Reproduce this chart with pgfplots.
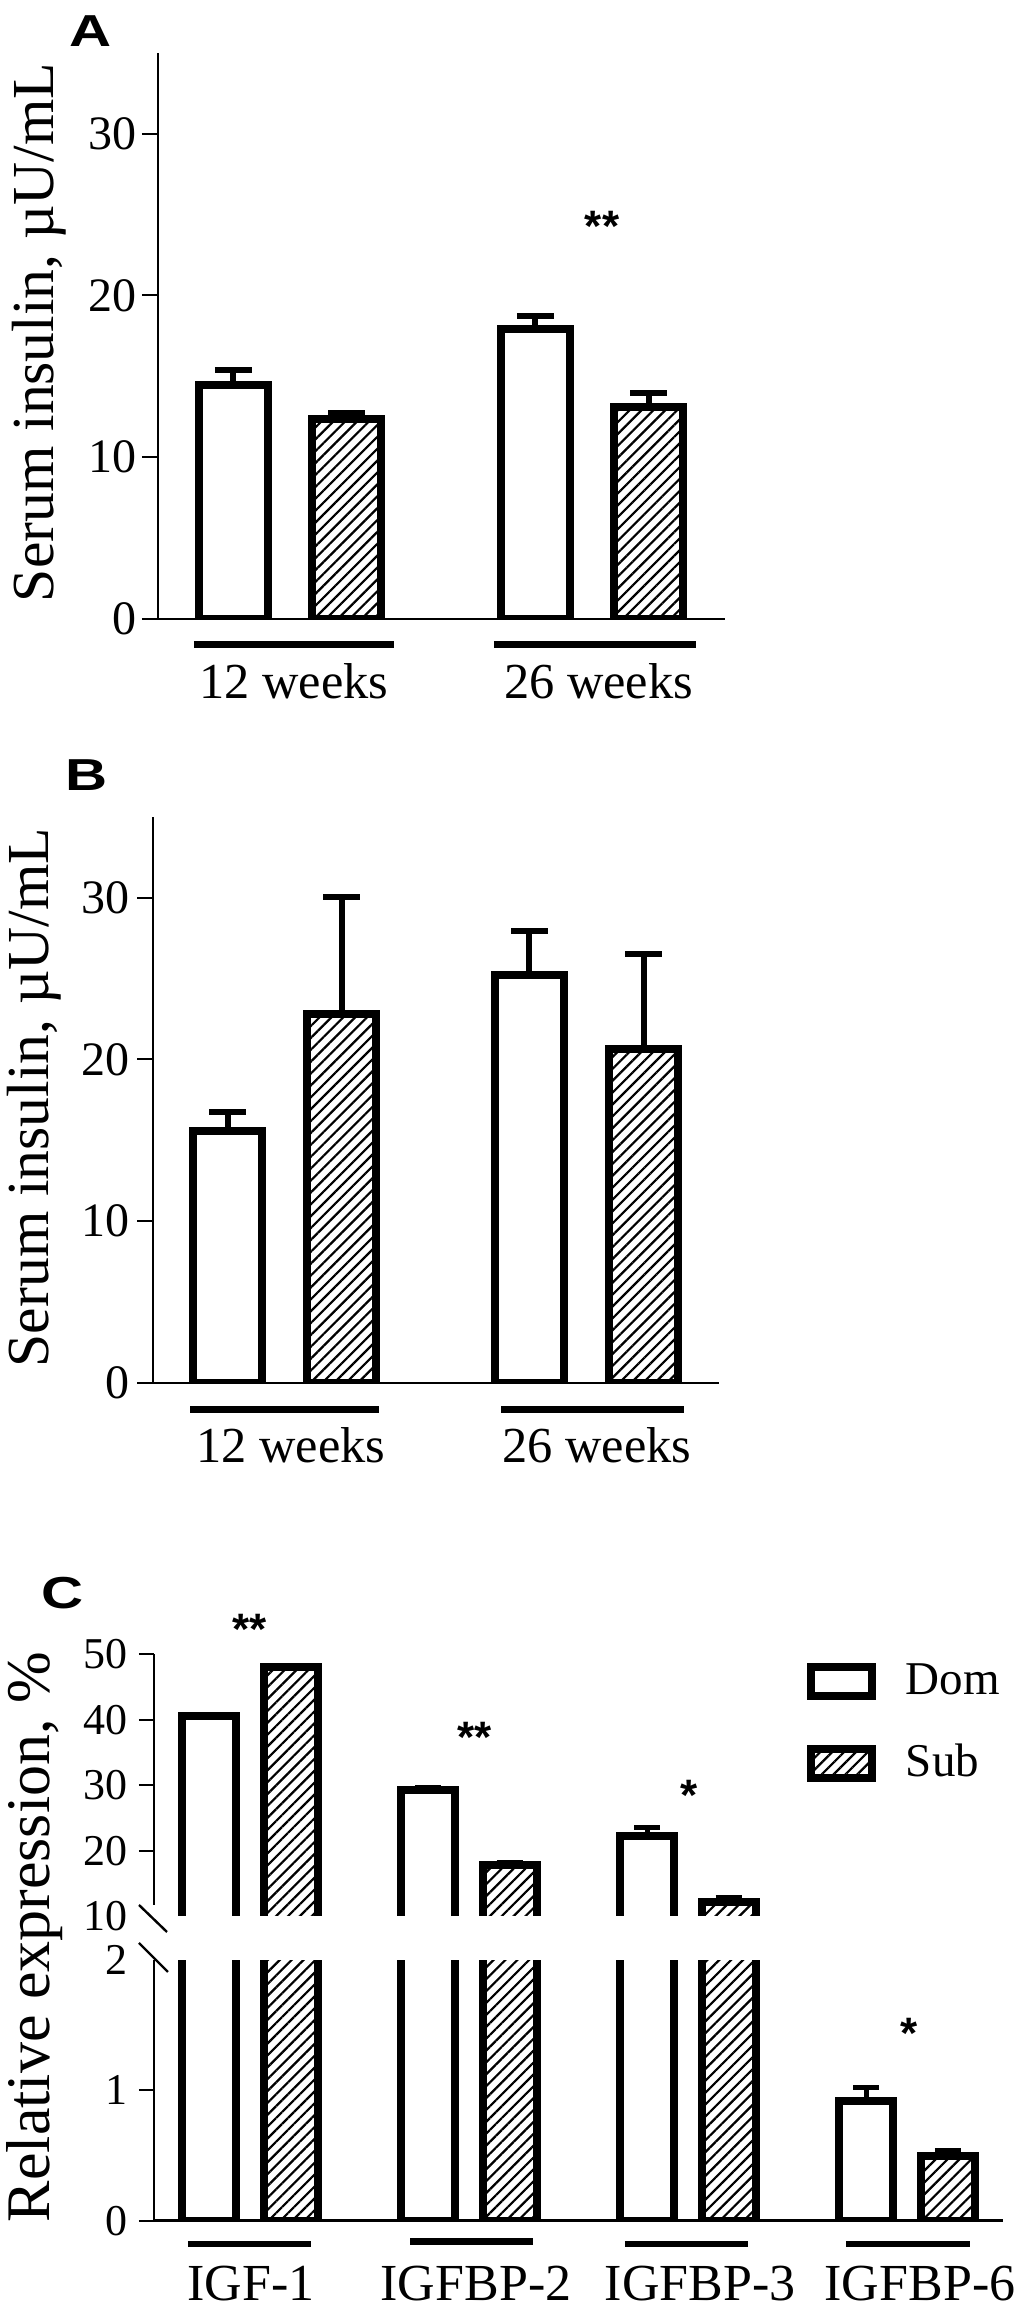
\documentclass[border=0pt]{standalone}
\usepackage{fontspec}
\setmainfont{Liberation Serif}
\newfontfamily\lsans{Liberation Sans}
\usepackage{pgfplots}
\pgfplotsset{compat=1.18}
\usetikzlibrary{patterns.meta}
\pgfplotsset{
  /pgf/number format/assume math mode=true,
  panel/.style={
    scale only axis, clip mode=individual,
    axis x line*=bottom, axis y line*=left,
    axis line style={line width=0.6pt, black},
    tick align=outside, major tick length=4pt,
    ytick style={line width=0.5pt, black},
    xtick style={draw=none},
    yticklabel style={inner sep=0pt},
  },
  errA/.style={error bars/.cd, y dir=plus, y explicit,
    error bar style={line width=1.5pt, black},
    error mark options={rotate=90, mark size=4.6pt, line width=1.5pt, black}},
  errC/.style={error bars/.cd, y dir=plus, y explicit,
    error bar style={line width=1.2pt, black},
    error mark options={rotate=90, mark size=3.25pt, line width=1.2pt, black}},
  hatch/.style={pattern={Lines[angle=45,distance=2.1pt,line width=0.55pt]}},
  legbox/.style={legend image code/.code={\draw[##1] (0pt,-3.6pt) rectangle (15.25pt,3.6pt); \path[draw=none,fill=none] (15.25pt,0pt) -- (23.75pt,0pt);}},
}
\tikzset{sig/.style={font=\lsans\bfseries\fontsize{11}{12}\selectfont, anchor=base, inner sep=0pt},
  plab/.style={font=\lsans\bfseries\fontsize{11.2}{12}\selectfont, anchor=base west, inner sep=0pt, xscale=1.3, transform shape}}
\begin{document}
\begin{tikzpicture}
\path[use as bounding box] (0,0) rectangle (255pt,577.75pt);
% ---------------- Panel A
\begin{axis}[panel, at={(39.5pt,423pt)}, anchor=south west,
  width=141.75pt, height=141.575pt,
  xmin=-0.437, xmax=1.440, ymin=0, ymax=35,
  ytick={0,10,20,30}, yticklabels={0,10,20,30},
  yticklabel style={font=\fontsize{12}{13}\selectfont, xshift=-1.25pt},
  xtick={0.013,1.0215}, xticklabels={12 weeks,26 weeks},
  xticklabel style={font=\fontsize{12.6}{13}\selectfont, yshift=-3.5pt},
  ylabel={Serum insulin, µU/mL},
  ylabel style={at={(axis description cs:-0.185,0.506)}, anchor=base, font=\fontsize{14.9}{16}\selectfont},
]
\addplot[ybar, bar width=17.25pt, bar shift=0pt, draw=black, fill=white, line width=2pt, errA]
  coordinates {(-0.1877,14.47) +- (0,0.94) (0.8123,17.92) +- (0,0.81)};
\addplot[ybar, bar width=17.25pt, bar shift=0pt, draw=black, hatch, line width=2pt, errA]
  coordinates {(0.1877,12.33) +- (0,0.40) (1.1877,13.10) +- (0,0.84)};
\draw[line width=1.75pt] (axis cs:-0.318,-1.607) -- (axis cs:0.344,-1.607);
\draw[line width=1.75pt] (axis cs:0.675,-1.607) -- (axis cs:1.344,-1.607);
\node[sig] at (axis cs:1.033,23.3) {**};
\end{axis}
% ---------------- Panel B
\begin{axis}[panel, at={(38.25pt,232pt)}, anchor=south west,
  width=141.5pt, height=141.575pt,
  xmin=-0.4366, xmax=1.439, ymin=0, ymax=35,
  ytick={0,10,20,30}, yticklabels={0,10,20,30},
  yticklabel style={font=\fontsize{12}{13}\selectfont, xshift=-1.75pt},
  xtick={0.021,1.035}, xticklabels={12 weeks,26 weeks},
  xticklabel style={font=\fontsize{12.6}{13}\selectfont, yshift=-3.5pt},
  ylabel={Serum insulin, µU/mL},
  ylabel style={at={(axis description cs:-0.185,0.504)}, anchor=base, font=\fontsize{14.9}{16}\selectfont},
]
\addplot[ybar, bar width=17.25pt, bar shift=0pt, draw=black, fill=white, line width=2pt, errA]
  coordinates {(-0.189,15.59) +- (0,1.17) (0.811,25.21) +- (0,2.71)};
\addplot[ybar, bar width=17.25pt, bar shift=0pt, draw=black, hatch, line width=2pt, errA]
  coordinates {(0.189,22.78) +- (0,7.26) (1.189,20.67) +- (0,5.83)};
\draw[line width=1.75pt] (axis cs:-0.314,-1.669) -- (axis cs:0.312,-1.669);
\draw[line width=1.75pt] (axis cs:0.717,-1.669) -- (axis cs:1.324,-1.669);
\end{axis}
% ---------------- Panel C upper
\begin{axis}[panel, at={(38.5pt,97.01pt)}, anchor=south west,
  width=212.25pt, height=67.24pt,
  axis x line=none, axis y line*=left,
  y axis line style={shorten <=4.49pt},
  major tick length=3.75pt,
  xmin=-0.438, xmax=3.438, ymin=9, ymax=50,
  ytick={20,30,40,50}, yticklabels={20,30,40,50},
  extra y ticks={10}, extra y tick labels={10},
  extra y tick style={major tick style={draw=none}},
  yticklabel style={font=\fontsize{11}{12}\selectfont, xshift=-2.75pt},
  legend style={at={(axis description cs:0.7691,0.9665)}, anchor=north west, draw=none, fill=none,
    inner sep=0pt, outer sep=0pt, row sep=11.25pt, font=\fontsize{11.75}{12}\selectfont,
    nodes={inner sep=0pt, text depth=0pt, text height=0.66em}},
  legend cell align=left,
]
\addplot[ybar, bar width=13.5pt, bar shift=0pt, draw=black, fill=white, line width=2pt, legbox, errC]
  coordinates {(-0.1858,40.6) +- (0,0.15) (0.8142,29.2) +- (0,0.5) (1.8142,22.2) +- (0,1.4) (2.8142,0.92) +- (0,0.10)};
\addlegendentry{Dom}
\addplot[ybar, bar width=13.5pt, bar shift=0pt, draw=black, hatch, line width=2pt, legbox, errC]
  coordinates {(0.1858,48.0) +- (0,0.15) (1.1858,17.9) +- (0,0.35) (2.1858,12.15) +- (0,0.8) (3.1858,0.50) +- (0,0.04)};
\addlegendentry{Sub}
\node[sig] at (axis cs:0,51.45) {**};
\node[sig] at (axis cs:1.027,34.99) {**};
\node[sig] at (axis cs:2.005,26.15) {*};
\end{axis}
% ---------------- Panel C lower
\begin{axis}[panel, at={(38.5pt,22.575pt)}, anchor=south west,
  width=212.25pt, height=65.175pt,
  major tick length=3.75pt,
  xmin=-0.438, xmax=3.438, ymin=0, ymax=2,
  ytick={0,1}, yticklabels={0,1},
  extra y ticks={2}, extra y tick labels={2},
  extra y tick style={major tick style={draw=none}},
  yticklabel style={font=\fontsize{11}{12}\selectfont, xshift=-2.75pt},
  xtick={0.005,1.032,2.055,3.059}, xticklabels={IGF-1,IGFBP-2,IGFBP-3,IGFBP-6},
  xticklabel style={font=\fontsize{13}{14}\selectfont, yshift=-4pt},
  ylabel={Relative expression, \%},
  ylabel style={at={(axis description cs:-0.1225,1.088)}, anchor=base, font=\fontsize{15.5}{17}\selectfont},
]
\addplot[ybar, bar width=13.5pt, bar shift=0pt, draw=black, fill=white, line width=2pt, errC]
  coordinates {(-0.1858,40.6) +- (0,0.15) (0.8142,29.2) +- (0,0.5) (1.8142,22.2) +- (0,1.4) (2.8142,0.92) +- (0,0.10)};
\addplot[ybar, bar width=13.5pt, bar shift=0pt, draw=black, hatch, line width=2pt, errC]
  coordinates {(0.1858,48.0) +- (0,0.15) (1.1858,17.9) +- (0,0.35) (2.1858,12.15) +- (0,0.8) (3.1858,0.50) +- (0,0.04)};
\draw[line width=1.6pt] (axis cs:-0.283,-0.179) -- (axis cs:0.279,-0.179);
\draw[line width=1.6pt] (axis cs:0.731,-0.161) -- (axis cs:1.292,-0.161);
\draw[line width=1.6pt] (axis cs:1.712,-0.179) -- (axis cs:2.274,-0.179);
\draw[line width=1.6pt] (axis cs:2.721,-0.179) -- (axis cs:3.288,-0.179);
\node[sig] at (axis cs:3.01,1.32) {*};
\end{axis}
% axis break: gap and marks
\fill[white] (37pt,87.75pt) rectangle (253pt,98.75pt);
\draw[line width=0.6pt] (34.75pt,101.5pt) -- (41.75pt,94.75pt);
\draw[line width=0.6pt] (34.75pt,92pt) -- (42pt,84.75pt);
% panel letters
\node[plab] at (17pt,566pt) {A};
\node[plab] at (16pt,380pt) {B};
\node[plab] at (10pt,175.5pt) {C};
\end{tikzpicture}
\end{document}
